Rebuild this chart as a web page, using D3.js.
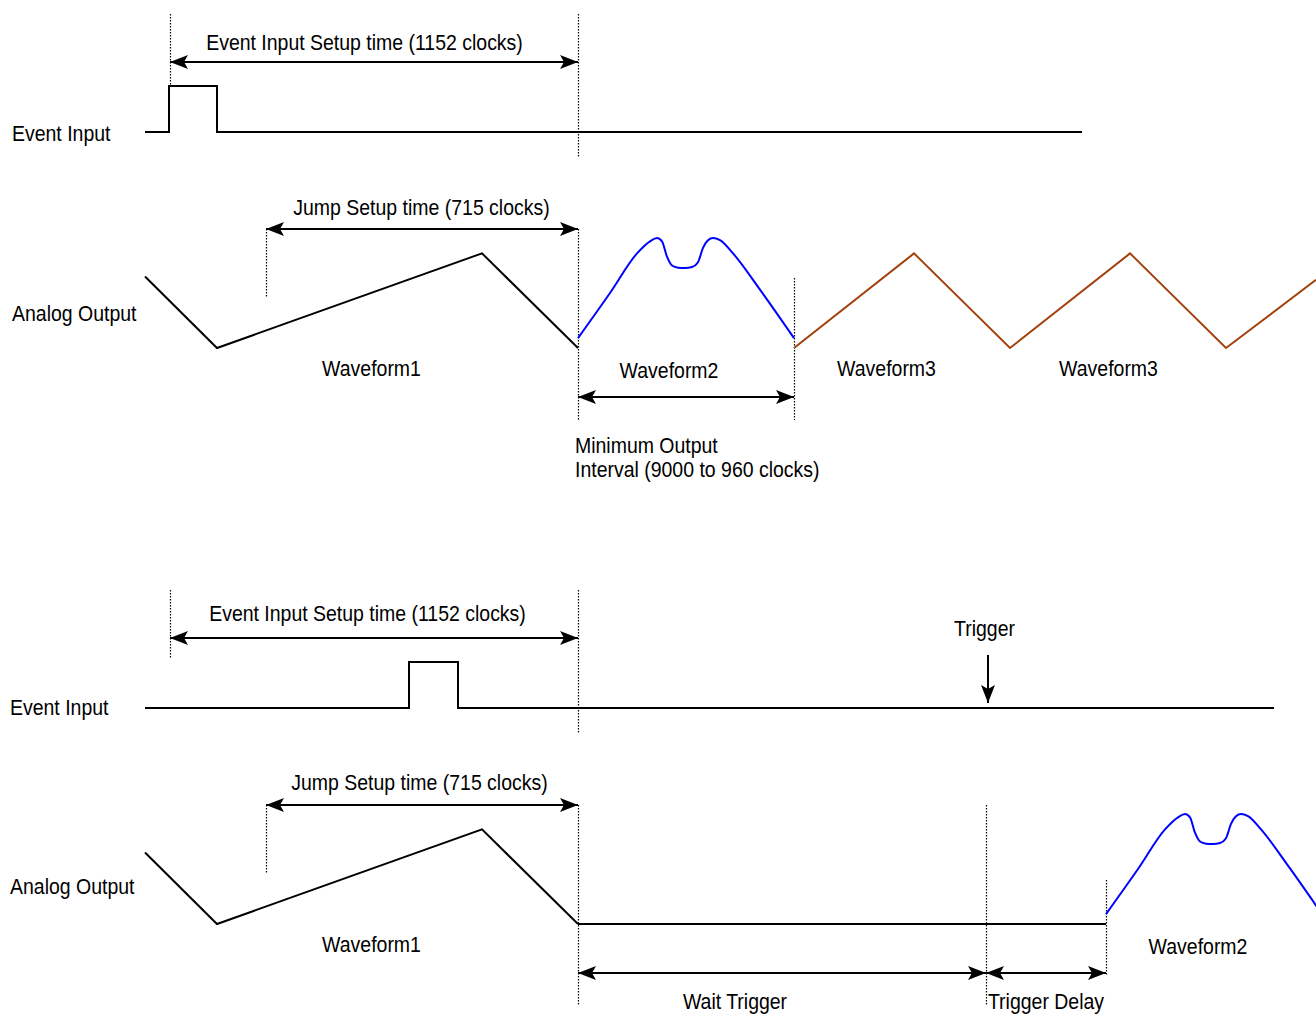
<!DOCTYPE html>
<html>
<head>
<meta charset="utf-8">
<script src="https://cdn.jsdelivr.net/npm/d3@7"></script>
<style>
	body { margin: 0; background: #fff; }
	text { font-family: 'Liberation Sans', Arial, sans-serif; font-size: 22px; fill: #000; }
</style>
</head>
<body>
<svg id="timing" width="1316" height="1017"></svg>
<script>
// timeline units (clock-ish positions along the diagram) and signal levels (0 = low, 1 = high)
const panels = ['jump', 'trigger']

const eventInput = [
	[[145, 0], [169, 0], [169, 1], [217, 1], [217, 0], [1082, 0]],
	[[145, 0], [409, 0], [409, 1], [458, 1], [458, 0], [1274, 0]],
]

const waveform1 = [[145, 0.65], [217, 0], [482, 0.86], [578, 0]]
const waveform3 = [[794, 0], [914, 0.86], [1010, 0], [1130, 0.86], [1226, 0], [1316, 0.62]]
const waitLevel = [[578, 0], [1106, 0]]

// Waveform2 shape, relative to where it starts
const waveform2Shape = [
	[0, 0.09], [32, 0.5], [59, 0.86], [72, 0.97], [79, 1.0], [84, 0.97], [89, 0.83], [94, 0.75],
	[100, 0.73], [107, 0.727], [114, 0.736], [120, 0.78], [125, 0.91], [130, 0.98], [135, 1.0],
	[142, 0.98], [155, 0.86], [182, 0.53], [216, 0.09],
]
const waveform2Start = [578, 1106]

// dotted markers: [time, row from, row to] in the track they belong to
const eventMarks = [
	[[170, 'top', 'high'], [578, 'top', 'bottom']],
	[[170, 'top', 'mid'], [578, 'top', 'bottom']],
]
const analogMarks = [
	[[266, 'top', 'mid'], [578, 'top', 'bottom'], [794, 'upper', 'bottom']],
	[[266, 'top', 'mid'], [578, 'top', 'end'], [986, 'top', 'end'], [1106, 'lower', 'low']],
]

// dimension arrows [from, to, row]
const eventSpans = [[[170, 578, 'setup']], [[170, 578, 'setup']]]
const analogSpans = [
	[[266, 578, 'setup'], [578, 794, 'interval']],
	[[266, 578, 'setup'], [578, 986, 'interval'], [986, 1106, 'interval']],
]

const setupLabels = ['Event Input Setup time (1152 clocks)', 'Jump Setup time (715 clocks)']
const setupLabelAt = [[364.5, 421.5], [367.5, 419.5]]
const trackLabels = ['Event Input', 'Analog Output']
const waveLabels = [
	[['Waveform1', 371.5, 'name'], ['Waveform2', 669, 'name2'], ['Waveform3', 886.5, 'name'], ['Waveform3', 1108.5, 'name']],
	[['Waveform1', 371.5, 'name'], ['Waveform2', 1198, 'name2'], ['Wait Trigger', 735, 'span'], ['Trigger Delay', 1046, 'span']],
]
const intervalNote = ['Minimum Output', 'Interval (9000 to 960 clocks)']
const triggerAt = 988

const svg = d3.select('#timing')
const x = d3.scaleLinear().domain([0, 1316]).range([0, 1316])

// vertical layout of each panel
const panelTop = [0, 576]
const eventY = d3.scaleLinear().domain([0, 1]).range([132, 86])
const analogY = d3.scaleLinear().domain([0, 1]).range([348, 238])

const eventRows = { top: 14, high: 86, mid: 82, bottom: 158, setup: 62 }
const analogRows = { top: 229, upper: 278, lower: 304, low: 399, mid: 298, bottom: 420, end: 430, setup: 229,
	interval: 397, name: 376, name2: 378, span: 433 }

const narrow = 0.885

const defs = svg.append('defs')
defs
	.append('marker')
	.attr('id', 'head')
	.attr('viewBox', '0 -7 18 14')
	.attr('refX', 18)
	.attr('refY', 0)
	.attr('markerUnits', 'userSpaceOnUse')
	.attr('markerWidth', 18)
	.attr('markerHeight', 14)
	.attr('orient', 'auto-start-reverse')
	.append('path')
	.attr('d', 'M0,-7L18,0L0,7L4,0Z')
	.attr('fill', '#000')

function signal(g, pts, yScale, color, curve) {
	const line = d3
		.line()
		.x(d => x(d[0]))
		.y(d => yScale(d[1]))
		.curve(curve || d3.curveLinear)
	g.append('path')
		.attr('d', line(pts))
		.attr('fill', 'none')
		.attr('stroke', color)
		.attr('stroke-width', 2)
		.attr('stroke-linejoin', 'miter')
}

function dotted(g, t, y1, y2) {
	g.append('line')
		.attr('x1', x(t) + 0.5)
		.attr('x2', x(t) + 0.5)
		.attr('y1', y1)
		.attr('y2', y2)
		.attr('stroke', '#000')
		.attr('stroke-width', 1.2)
		.attr('stroke-dasharray', '1.5,1.5')
}

function span(g, t0, t1, y) {
	g.append('line')
		.attr('x1', x(t0))
		.attr('x2', x(t1))
		.attr('y1', y)
		.attr('y2', y)
		.attr('stroke', '#000')
		.attr('stroke-width', 2)
		.attr('marker-start', 'url(#head)')
		.attr('marker-end', 'url(#head)')
}

//Labels use a condensed look, like the original's narrow Helvetica
function label(g, txt, tx, y, anchor) {
	return g
		.append('text')
		.attr('transform', 'translate(' + tx + ',' + y + ') scale(' + narrow + ',1)')
		.attr('text-anchor', anchor || 'middle')
		.text(txt)
}

panels.forEach((p, i) => {
	const g = svg.append('g').attr('transform', 'translate(0,' + panelTop[i] + ')')

	//Event input track
	eventMarks[i].forEach(m => dotted(g, m[0], eventRows[m[1]], eventRows[m[2]]))
	eventSpans[i].forEach(s => span(g, s[0], s[1], eventRows[s[2]]))
	signal(g, eventInput[i], eventY, '#000')
	label(g, setupLabels[0], setupLabelAt[i][0], i ? 45 : 49.5)
	label(g, trackLabels[0], i ? 10 : 12, i ? 139 : 141, 'start')

	//Analog output track
	analogMarks[i].forEach(m => dotted(g, m[0], analogRows[m[1]], analogRows[m[2]]))
	analogSpans[i].forEach(s => span(g, s[0], s[1], analogRows[s[2]]))
	signal(g, waveform1, analogY, '#000')
	const w2 = waveform2Shape.map(d => [d[0] + waveform2Start[i], d[1]])
	signal(g, w2, analogY, '#0000ff', d3.curveMonotoneX)
	label(g, setupLabels[1], setupLabelAt[i][1], i ? 214 : 215)
	label(g, trackLabels[1], i ? 10 : 12, i ? 318 : 321, 'start')
	waveLabels[i].forEach(w => label(g, w[0], x(w[1]), analogRows[w[2]]))

	if (i === 0) {
		signal(g, waveform3, analogY, '#a3410c')
		label(g, intervalNote[0], x(575), 453, 'start')
		label(g, intervalNote[1], x(575), 477, 'start')
	} else {
		signal(g, waitLevel, analogY, '#000')
		label(g, 'Trigger', x(triggerAt - 3.5), 60)
		g.append('line')
			.attr('x1', x(triggerAt))
			.attr('x2', x(triggerAt))
			.attr('y1', 79)
			.attr('y2', 127)
			.attr('stroke', '#000')
			.attr('stroke-width', 2)
			.attr('marker-end', 'url(#head)')
	}
})
</script>
</body>
</html>
